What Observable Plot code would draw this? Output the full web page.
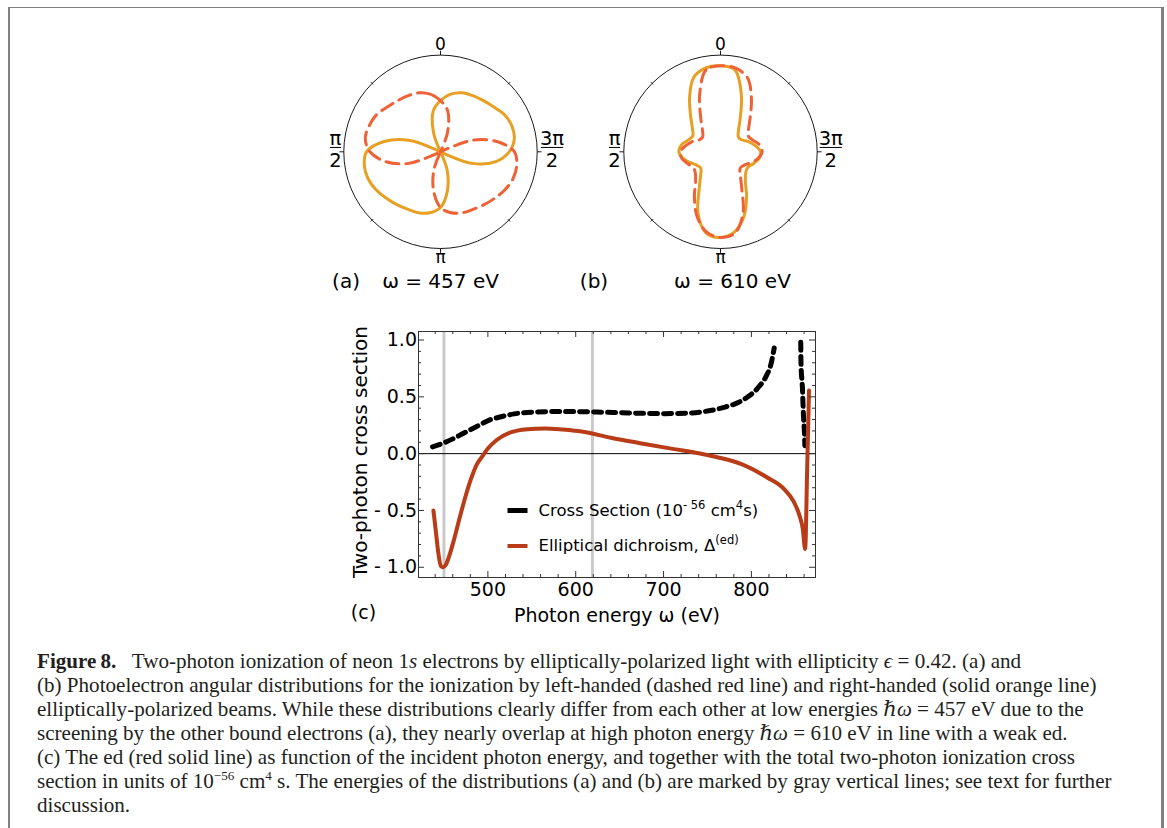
<!DOCTYPE html>
<html>
<head>
<meta charset="utf-8">
<script src="https://cdn.jsdelivr.net/npm/d3@7"></script>
<script src="https://cdn.jsdelivr.net/npm/@observablehq/plot@0.6"></script>
<style>
html, body { margin: 0; padding: 0; background: #fff; }
#page { position: relative; width: 1167px; height: 828px; overflow: hidden; background: #fff; }
#border { position: absolute; left: 8px; top: 7px; width: 1156px; height: 900px; box-sizing: border-box;
  border-left: 2px solid #808080; border-top: 1px solid #808080; border-right: 3px solid #808080; }
.plot { position: absolute; }
.plot svg { overflow: visible; max-width: none !important; }
#caption { position: absolute; left: 37px; top: 649px; font-family: "Liberation Serif", "DejaVu Serif", serif;
  font-size: 19px; line-height: 24px; color: #231f20; }
#caption .ln { display: block; white-space: nowrap; }
#caption .ln span { white-space: nowrap; }
#caption sup { font-size: 0.62em; line-height: 0; vertical-align: 0.62em; }
</style>
</head>
<body>
<div id="page">
  <div id="border"></div>
  <div id="pa" class="plot" style="left:290px; top:20px; width:300px; height:280px;"></div>
  <div id="pb" class="plot" style="left:570px; top:20px; width:300px; height:280px;"></div>
  <div id="pc" class="plot" style="left:330px; top:315px; width:500px; height:320px;"></div>
  <div id="caption"></div>
</div>
<script>
// ---------------- DATA ----------------
// Polar panels: angle (degrees, 0 at top, counter-clockwise) and radius (fraction of the outer circle)
const polarAngles = [0,10,20,30,40,50,60,70,80,90,100,110,120,130,140,150,160,170,
                     180,190,200,210,220,230,240,250,260,270,280,290,300,310,320,330,340,350];
// (a) 457 eV
const aRightHanded = [0.53,0.43,0.21,0,0,0,0,0.35,0.60,0.765,0.80,0.80,0.775,0.74,0.71,0.685,0.67,0.64,
                      0.576,0.41,0.20,0,0,0,0,0.35,0.58,0.71,0.775,0.785,0.765,0.72,0.69,0.67,0.65,0.605];
const aLeftHanded  = [0.53,0.605,0.65,0.67,0.69,0.72,0.765,0.785,0.79,0.73,0.58,0.35,0,0,0,0,0.20,0.41,
                      0.576,0.64,0.67,0.685,0.71,0.74,0.775,0.80,0.80,0.765,0.60,0.35,0,0,0,0,0.21,0.43];
// (b) 610 eV
const bRightHanded = [0.89,0.88,0.815,0.64,0.48,0.38,0.33,0.355,0.41,0.43,0.395,0.33,0.28,0.265,0.32,0.44,0.68,0.855,
                      0.886,0.84,0.71,0.54,0.40,0.34,0.325,0.36,0.405,0.415,0.365,0.31,0.25,0.24,0.29,0.41,0.63,0.86];
const bLeftHanded  = [0.89,0.86,0.63,0.41,0.29,0.24,0.25,0.31,0.365,0.415,0.405,0.36,0.325,0.34,0.40,0.54,0.71,0.84,
                      0.886,0.855,0.68,0.44,0.32,0.265,0.28,0.33,0.395,0.43,0.41,0.355,0.33,0.38,0.48,0.64,0.815,0.88];
const polarTickAngles = [0, 90, 180, 270];
const polarTickLabels = ["0", "π/2", "π", "3π/2"];
const polarMinorAngles = [45, 135, 225, 315];
const panelLabels = ["(a)", "(b)"];
const energyLabels = ["ω = 457 eV", "ω = 610 eV"];

// (c) cross section (two branches) and elliptical dichroism vs photon energy (eV)
const csEnergy1 = [437,450,460,470,480,490,500,515,530,550,575,600,630,660,700,730,750,770,785,796,807,817,822,826];
const csValue1  = [0.06,0.095,0.13,0.17,0.21,0.25,0.29,0.325,0.35,0.365,0.37,0.37,0.365,0.358,0.352,0.357,0.375,0.41,0.45,0.50,0.575,0.685,0.78,0.93];
const csEnergy2 = [856.2,856.5,858.1,859.2,860.5,860.9];
const csValue2  = [0.98,0.79,0.58,0.35,0.17,0.07];
const edEnergy = [438,441,443.5,446.5,449,452,456,462,468,474,480,487,494,500,510,525,545,565,585,610,
                  640,675,712,740,760,788,818,837,848,855,858.5,861.2,863.5,865.6];
const edValue  = [-0.50,-0.70,-0.87,-0.99,-1.0,-0.98,-0.90,-0.74,-0.56,-0.39,-0.24,-0.10,-0.02,0.045,0.12,0.185,0.215,0.222,0.212,0.19,
                  0.14,0.09,0.04,0.003,-0.03,-0.09,-0.21,-0.31,-0.42,-0.55,-0.66,-0.84,-0.14,0.555];
const markedEnergies = [450, 619];
const xTicks = [500, 600, 700, 800];
const yTicks = [-1, -0.5, 0, 0.5, 1];
const yTickLabels = ["- 1.0", "- 0.5", "0.0", "0.5", "1.0"];
const xLabel = "Photon energy ω (eV)";
const yLabel = "Two-photon cross section";
const panelC = "(c)";
const legendLabels = ["Cross Section (10⁻⁵⁶ cm⁴s)", "Elliptical dichroism, Δ⁽ᵉᵈ⁾"];

const captionLines = [
  '<b>Figure\u20098.</b>\u2002 Two-photon ionization of neon 1<i>s</i> electrons by elliptically-polarized light with ellipticity <i>ϵ</i> = 0.42. (a) and',
  '(b) Photoelectron angular distributions for the ionization by left-handed (dashed red line) and right-handed (solid orange line)',
  'elliptically-polarized beams. While these distributions clearly differ from each other at low energies <i>ℏω</i> = 457 eV due to the',
  'screening by the other bound electrons (a), they nearly overlap at high photon energy <i>ℏω</i> = 610 eV in line with a weak ed.',
  '(c) The ed (red solid line) as function of the incident photon energy, and together with the total two-photon ionization cross',
  'section in units of 10<sup>−56</sup> cm<sup>4</sup> s. The energies of the distributions (a) and (b) are marked by gray vertical lines; see text for further',
  'discussion.'
];

// ---------------- STYLE ----------------
const FONT = "'DejaVu Sans', sans-serif";
const ORANGE = "#E7A024";
const DASHRED = "#EE6236";
const EDRED = "#B93C18";

const rad = a => a * Math.PI / 180;
const toXY = (angles, r) => angles.map((a, i) => ({x: -r[i] * Math.sin(rad(a)), y: r[i] * Math.cos(rad(a))}));

function polarPanel(solid, dashed, panelLabel, energyLabel, lay) {
  const W = 300, H = 280, cx = 150, cy = 131.3, R = 96.7;
  const ticks = polarTickLabels.map((lab, i) => {
    const [num, den] = lab.split("/");
    return {a: polarTickAngles[i], num, den};
  });
  const onAxis = ticks.filter(t => !t.den);
  const side = ticks.filter(t => t.den);
  const sideX = t => (t.a === 90 ? lay.left : lay.right);
  const barHalf = t => (t.num.length > 1 ? 0.115 : 0.058);
  return Plot.plot({
    width: W, height: H, margin: 0,
    style: {fontFamily: FONT, fontSize: "17px", background: "transparent", color: "#000", overflow: "visible"},
    x: {domain: [-1, 1], range: [cx - R, cx + R], axis: null},
    y: {domain: [-1, 1], range: [cy + R, cy - R], axis: null},
    marks: [
      Plot.dot([0], {x: () => 0, y: () => 0, r: R, stroke: "#000", strokeWidth: 0.9, fill: "none"}),
      Plot.link(polarTickAngles, {x1: a => -Math.sin(rad(a)), y1: a => Math.cos(rad(a)),
        x2: a => -1.045 * Math.sin(rad(a)), y2: a => 1.045 * Math.cos(rad(a)), stroke: "#000", strokeWidth: 0.9}),
      Plot.link(polarMinorAngles, {x1: a => -0.985 * Math.sin(rad(a)), y1: a => 0.985 * Math.cos(rad(a)),
        x2: a => -1.02 * Math.sin(rad(a)), y2: a => 1.02 * Math.cos(rad(a)), stroke: "#000", strokeWidth: 0.8}),
      Plot.line(toXY(polarAngles, solid), {x: "x", y: "y", curve: "catmull-rom-closed", stroke: ORANGE, strokeWidth: 3}),
      Plot.line(toXY(polarAngles, dashed), {x: "x", y: "y", curve: "catmull-rom-closed", stroke: DASHRED, strokeWidth: 3, strokeDasharray: "13,7"}),
      Plot.text(onAxis, {x: () => 0, y: t => (t.a === 0 ? 1.11 : -1.098), text: "num", fontSize: 17}),
      Plot.text(side, {x: sideX, y: () => 0.14, text: "num", fontSize: 19.5}),
      Plot.text(side, {x: sideX, y: () => -0.09, text: "den", fontSize: 19.5}),
      Plot.link(side, {x1: t => sideX(t) - barHalf(t), x2: t => sideX(t) + barHalf(t), y1: () => 0.045, y2: () => 0.045, stroke: "#000", strokeWidth: 1}),
      Plot.text([panelLabel], {x: () => lay.panelX, y: () => -1.341, text: d => d, fontSize: 20}),
      Plot.text([energyLabel], {x: () => lay.energyX, y: () => -1.341, text: d => d, fontSize: 20})
    ]
  });
}

document.getElementById("pa").appendChild(
  polarPanel(aRightHanded, aLeftHanded, panelLabels[0], energyLabels[0], {left: -1.086, right: 1.153, panelX: -0.977, energyX: 0})
);
document.getElementById("pb").appendChild(
  polarPanel(bRightHanded, bLeftHanded, panelLabels[1], energyLabels[1], {left: -1.096, right: 1.14, panelX: -1.308, energyX: 0.124})
);

// ---------------- PANEL (c) ----------------
const cs1 = csEnergy1.map((e, i) => ({e, v: csValue1[i]}));
const cs2 = csEnergy2.map((e, i) => ({e, v: csValue2[i]}));
const ed = edEnergy.map((e, i) => ({e, v: edValue[i]}));
const W = 500, H = 320, mL = 88, mR = 15, mT = 16, mB = 58;
const fw = W - mL - mR, fh = H - mT - mB;
const yMinor = d3.range(-10, 11).map(i => i / 10).filter(v => !yTicks.includes(v));
const xMinor = d3.range(440, 861, 20).filter(v => !xTicks.includes(v));
const barSymbol = {draw(ctx) { ctx.moveTo(-10, 0); ctx.lineTo(10, 0); }};
const legendRows = [
  {label: legendLabels[0], stroke: "#000", width: 5, dy: -67},
  {label: legendLabels[1], stroke: EDRED, width: 4, dy: -31.5}
];
const tickStroke = "#333";
const dash = "8,6";

const cPlot = Plot.plot({
  width: W, height: H, marginLeft: mL, marginRight: mR, marginTop: mT, marginBottom: mB,
  style: {fontFamily: FONT, fontSize: "19px", background: "transparent", color: "#000", overflow: "visible"},
  x: {domain: [421, 873], axis: null},
  y: {domain: [-1.09, 1.075], axis: null},
  marks: [
    Plot.ruleX(markedEnergies, {x: d => d, stroke: "#c9c9c9", strokeWidth: 3}),
    Plot.ruleY([0], {y: d => d, stroke: "#000", strokeWidth: 1}),
    Plot.line(cs1, {x: "e", y: "v", curve: "monotone-x", stroke: "#000", strokeWidth: 5, strokeDasharray: dash}),
    Plot.line(cs2, {x: "e", y: "v", curve: "monotone-x", stroke: "#000", strokeWidth: 5, strokeDasharray: dash}),
    Plot.line(ed, {x: "e", y: "v", curve: "monotone-x", stroke: EDRED, strokeWidth: 4}),
    Plot.frame({stroke: "#333", strokeWidth: 1}),
    Plot.ruleY(yTicks, {y: d => d, insetRight: fw - 6, stroke: tickStroke}),
    Plot.ruleY(yTicks, {y: d => d, insetLeft: fw - 6, stroke: tickStroke}),
    Plot.ruleY(yMinor, {y: d => d, insetRight: fw - 3, stroke: tickStroke}),
    Plot.ruleY(yMinor, {y: d => d, insetLeft: fw - 3, stroke: tickStroke}),
    Plot.ruleX(xTicks, {x: d => d, insetTop: fh - 6, stroke: tickStroke}),
    Plot.ruleX(xTicks, {x: d => d, insetBottom: fh - 6, stroke: tickStroke}),
    Plot.ruleX(xMinor, {x: d => d, insetTop: fh - 3, stroke: tickStroke}),
    Plot.ruleX(xMinor, {x: d => d, insetBottom: fh - 3, stroke: tickStroke}),
    Plot.text(xTicks, {x: d => d, frameAnchor: "bottom", dy: 12, lineAnchor: "middle", text: d => String(d), fontSize: 19}),
    Plot.text(yTicks, {y: d => d, frameAnchor: "left", dx: -1.5, textAnchor: "end", lineAnchor: "middle", text: (d, i) => yTickLabels[i], fontSize: 19}),
    Plot.text([xLabel], {frameAnchor: "bottom", dy: 38, lineAnchor: "middle", textAnchor: "middle", text: d => d, fontSize: 19}),
    Plot.text([yLabel], {frameAnchor: "left", dx: -58, dy: -2.5, rotate: -90, textAnchor: "middle", lineAnchor: "middle", text: d => d, fontSize: 20}),
    Plot.text([panelC], {frameAnchor: "bottom-left", dx: -55, dy: 35, textAnchor: "middle", lineAnchor: "middle", text: d => d, fontSize: 19}),
    ...legendRows.flatMap(r => [
      Plot.dot([r], {frameAnchor: "bottom-left", dx: 99, dy: r.dy, symbol: barSymbol, fill: "none", stroke: r.stroke, strokeWidth: r.width}),
      Plot.text([r], {frameAnchor: "bottom-left", dx: 120, dy: r.dy, text: "label", textAnchor: "start", lineAnchor: "middle", fontSize: 16.5})
    ])
  ]
});
document.getElementById("pc").appendChild(cPlot);

// superscripts in legend labels
function rich(textEl, parts) {
  const t = d3.select(textEl);
  t.text(null);
  let raised = false;
  parts.forEach(p => {
    const s = t.append("tspan").text(p.t);
    if (p.sup && !raised) { s.attr("dy", "-7").attr("font-size", "11.5px"); raised = true; }
    else if (p.sup) { s.attr("font-size", "11.5px"); }
    else if (!p.sup && raised) { s.attr("dy", "7"); raised = false; }
  });
}
d3.select(cPlot).selectAll("text").each(function () {
  const s = this.textContent;
  if (s === legendLabels[0]) rich(this, [{t: "Cross Section (10"}, {t: "- 56", sup: true}, {t: " cm"}, {t: "4", sup: true}, {t: "s)"}]);
  else if (s === legendLabels[1]) rich(this, [{t: "Elliptical dichroism, Δ"}, {t: "(ed)", sup: true}]);
});

// ---------------- CAPTION ----------------
const cap = document.getElementById("caption");
captionLines.forEach(h => {
  const d = document.createElement("div");
  d.className = "ln";
  d.innerHTML = "<span>" + h + "</span>";
  cap.appendChild(d);
});
const ref = cap.children[5].firstChild.getBoundingClientRect().width;
const target = 1075;
cap.style.fontSize = (19 * target / ref).toFixed(2) + "px";
</script>
</body>
</html>
